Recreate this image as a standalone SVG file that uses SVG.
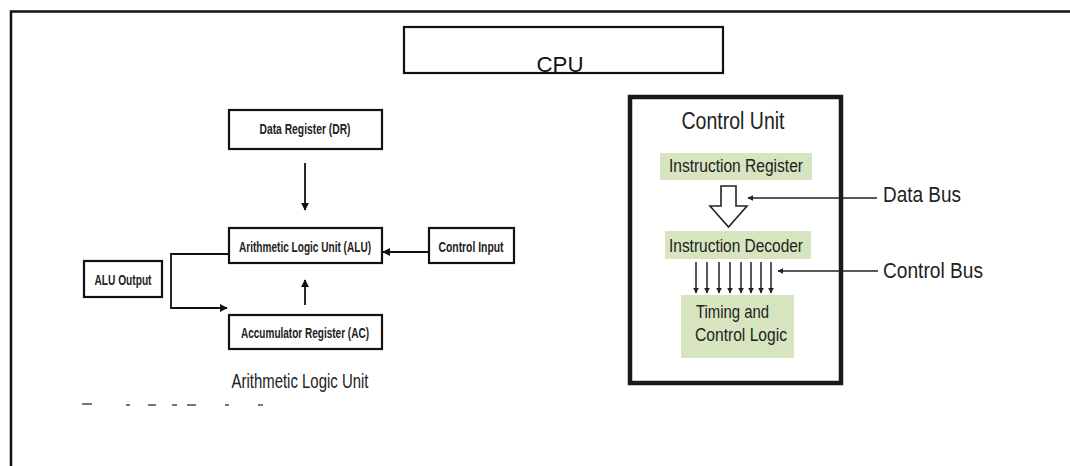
<svg xmlns="http://www.w3.org/2000/svg" width="1070" height="466" viewBox="0 0 1070 466">
<style>
.frame{fill:none;stroke:#111;stroke-width:2.5}
.box{fill:#fff;stroke:#111;stroke-width:2.2}
.lbl{font-family:"Liberation Sans",Arial,sans-serif;font-weight:bold;font-size:15px;fill:#222;text-anchor:middle}
.cu{font-family:"Liberation Sans",Arial,sans-serif;fill:#222}
.green{fill:#d6e4c0}
.line{fill:none;stroke:#111;stroke-width:1.8}
.bline{fill:none;stroke:#222;stroke-width:1.5}
</style>
<defs>
<marker id="ah" viewBox="0 0 10 10" refX="9" refY="5" markerWidth="8" markerHeight="8" orient="auto" markerUnits="userSpaceOnUse">
<path d="M0,0 L10,5 L0,10 z" fill="#111"/>
</marker>
<marker id="ahs" viewBox="0 0 10 10" refX="9" refY="5" markerWidth="6" markerHeight="6" orient="auto" markerUnits="userSpaceOnUse">
<path d="M0,0 L10,5 L0,10 z" fill="#222"/>
</marker>
</defs>
<rect width="1070" height="466" fill="#fff"/>
<rect id="outer" class="frame" x="11" y="11.5" width="1070" height="470"/>
<g id="cpu">
<rect class="box" x="404" y="27" width="319" height="46"/>
<text x="560" y="72" font-family="Liberation Sans, Arial, sans-serif" font-size="22" text-anchor="middle" fill="#111" textLength="47" lengthAdjust="spacingAndGlyphs">CPU</text>
</g>
<g id="dr"><rect class="box" x="229" y="110" width="153" height="39"/><text class="lbl" x="305" y="134" textLength="91" lengthAdjust="spacingAndGlyphs">Data Register (DR)</text></g>
<g id="alu"><rect class="box" x="229" y="228" width="153" height="35"/><text class="lbl" x="305" y="252" textLength="132" lengthAdjust="spacingAndGlyphs">Arithmetic Logic Unit (ALU)</text></g>
<g id="ctrlin"><rect class="box" x="429" y="228" width="85" height="35"/><text class="lbl" x="471" y="252" textLength="65" lengthAdjust="spacingAndGlyphs">Control Input</text></g>
<g id="aluout"><rect class="box" x="84" y="261" width="78" height="36"/><text class="lbl" x="123" y="285" textLength="57" lengthAdjust="spacingAndGlyphs">ALU Output</text></g>
<g id="ac"><rect class="box" x="229" y="315" width="153" height="34"/><text class="lbl" x="305" y="338" textLength="128" lengthAdjust="spacingAndGlyphs">Accumulator Register (AC)</text></g>
<text id="alu-title" x="300" y="388" font-family="Liberation Sans, Arial, sans-serif" font-size="21" fill="#222" text-anchor="middle" textLength="137" lengthAdjust="spacingAndGlyphs">Arithmetic Logic Unit</text>
<g id="fragments" fill="#777">
<rect x="82" y="403" width="10" height="2"/><rect x="126" y="404" width="4" height="2"/><rect x="148" y="404" width="8" height="2"/><rect x="172" y="404" width="5" height="2"/><rect x="187" y="404" width="9" height="2"/><rect x="225" y="404" width="4" height="2"/><rect x="258" y="404" width="5" height="2"/>
</g>
<g id="control-unit">
<rect x="630" y="97" width="211" height="286" fill="#fff" stroke="#1a1a1a" stroke-width="4.5"/>
<text class="cu" x="733" y="129" font-size="23" text-anchor="middle" textLength="103" lengthAdjust="spacingAndGlyphs">Control Unit</text>
</g>
<g id="ir"><rect class="green" x="660" y="153" width="152" height="27"/><text class="cu" x="736" y="172" font-size="18" text-anchor="middle" textLength="134" lengthAdjust="spacingAndGlyphs">Instruction Register</text></g>
<g id="id"><rect class="green" x="665" y="231" width="146" height="28"/><text class="cu" x="736" y="252" font-size="18" text-anchor="middle" textLength="134" lengthAdjust="spacingAndGlyphs">Instruction Decoder</text></g>
<g id="tcl"><rect class="green" x="681" y="295" width="113" height="63"/><text class="cu" x="696" y="318" font-size="18" textLength="73" lengthAdjust="spacingAndGlyphs">Timing and</text><text class="cu" x="695" y="341" font-size="18" textLength="92" lengthAdjust="spacingAndGlyphs">Control Logic</text></g>
<text id="databus" class="cu" x="883" y="202" font-size="22" textLength="78" lengthAdjust="spacingAndGlyphs">Data Bus</text>
<text id="controlbus" class="cu" x="883" y="278" font-size="22" textLength="100" lengthAdjust="spacingAndGlyphs">Control Bus</text>
<g id="connectors">
<line class="line" x1="305" y1="163" x2="305" y2="210" marker-end="url(#ah)"/>
<line class="line" x1="428" y1="252" x2="383" y2="252" stroke-width="2.4" marker-end="url(#ah)"/>
<polyline class="line" points="229,254 171,254 171,308 227,308" stroke-width="2.4" marker-end="url(#ah)"/>
<line class="line" x1="305" y1="305" x2="305" y2="280" marker-end="url(#ah)"/>
<path d="M721,186 L736,186 L736,206 L747,206 L728.5,227 L710,206 L721,206 Z" fill="#fff" stroke="#222" stroke-width="1.6"/>
<line class="bline" x1="877" y1="198" x2="748" y2="198" marker-end="url(#ahs)"/>
<line class="bline" x1="878" y1="271" x2="778" y2="271" marker-end="url(#ahs)"/>
<g class="bline" stroke-width="1.3">
<line x1="696" y1="262" x2="696" y2="293" marker-end="url(#ahs)"/>
<line x1="707" y1="262" x2="707" y2="293" marker-end="url(#ahs)"/>
<line x1="719" y1="262" x2="719" y2="293" marker-end="url(#ahs)"/>
<line x1="730" y1="262" x2="730" y2="293" marker-end="url(#ahs)"/>
<line x1="741" y1="262" x2="741" y2="293" marker-end="url(#ahs)"/>
<line x1="751" y1="262" x2="751" y2="293" marker-end="url(#ahs)"/>
<line x1="761" y1="262" x2="761" y2="293" marker-end="url(#ahs)"/>
<line x1="771" y1="262" x2="771" y2="293" marker-end="url(#ahs)"/>
</g>
</g>
</svg>
